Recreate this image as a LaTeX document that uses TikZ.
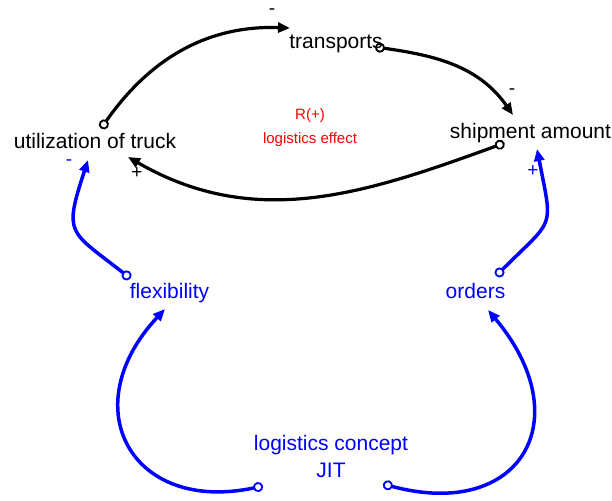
\documentclass[tikz,border=0pt]{standalone}
\usepackage{fontspec}
\setmainfont{Liberation Sans}
\usepackage{tikz}
\usetikzlibrary{arrows.meta}

\begin{document}
\begin{tikzpicture}
		[
			x=1pt,y=1pt,
			every node/.style={inner sep=0pt,font=\fontsize{21}{25}\selectfont},
			word/.style={text height=15pt,text depth=4.5pt},
			sign/.style={font=\fontsize{19}{19}\selectfont},
			link/.style={line width=3.2pt,
					{Circle[open,length=10pt,width=10pt,line width=1.8pt]}-{Triangle[length=12pt,width=10pt]}},
			blue link/.style={link,draw=blue,line width=3.5pt}]
		\useasboundingbox (0,0) rectangle (612,500);
		% variables
		\node[word] (util) at (95,357) {utilization of truck};
		\node[word] (trans) at (336,457) {transports};
		\node[word] (ship) at (530.5,367) {shipment amount};
		\node[word,text=blue] (flex) at (169.5,207) {flexibility};
		\node[word,text=blue] (orders) at (475.5,207) {orders};
		\node[text=blue,align=center,font=\fontsize{21}{27}\selectfont] (concept) at (331,44) {logistics concept\\JIT};
		\node[text=red,align=center,font=\fontsize{15}{24}\selectfont] (loop) at (310,372) {R(+)\\logistics effect};
		% links of the loop
		\draw[link] ([shift={(6,14.5)}]util.center) to[out=55,in=178] ([shift={(-46,15)}]trans.center);
		\draw[link] ([shift={(39,-4)}]trans.center) to[out=-8,in=125] ([shift={(-17.5,18)}]ship.center);
		\draw[link] ([shift={(-26,-10)}]ship.center) to[out=200,in=-30] ([shift={(33,-14)}]util.center);
		% outside influences
		\draw[blue link] ([shift={(-39,14.5)}]flex.center) to[out=142,in=252,looseness=1.6] ([shift={(-7,-17)}]util.center);
		\draw[blue link] ([shift={(20.5,17)}]orders.center) to[out=45,in=281,looseness=1.6] ([shift={(6.5,-16)}]ship.center);
		\draw[blue link] ([shift={(-68,-30)}]concept.center) to[out=192,in=227,looseness=1.7] ([shift={(-4.5,-16)}]flex.center);
		\draw[blue link] ([shift={(52,-28)}]concept.center) to[out=-15,in=310,looseness=1.8] ([shift={(12.5,-17)}]orders.center);
		% polarities
		\node[sign] (s1) at (272,488) {-};
		\node[sign] (s2) at (512,408) {-};
		\node[sign] (s3) at (137,327) {+};
		\node[sign,text=blue] (s4) at (69,337) {-};
		\node[sign,text=blue] (s5) at (533,329) {+};
	\end{tikzpicture}
\end{document}
